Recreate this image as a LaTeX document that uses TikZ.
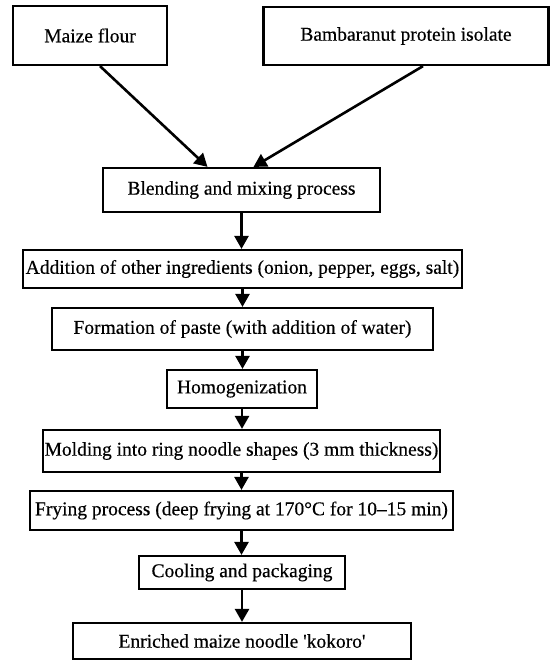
\documentclass[tikz,border=0pt]{standalone}
\usepackage{fontspec}
\setmainfont{Liberation Serif}[FakeBold=0.4]
\usetikzlibrary{arrows.meta}
\begin{document}
\begin{tikzpicture}[x=1pt,y=-1pt,
    box/.style={draw,line width=2.2pt,inner sep=1pt,font=\fontsize{19.5}{21}\selectfont},
    arr/.style={line width=2.6pt,-{Triangle[length=13pt,width=14pt]}}]
    \useasboundingbox (0,0) rectangle (550,660);
    % Nodes
    \node[box,minimum width=154pt,minimum height=59pt] (A) at (90,35.5){Maize flour};
    \node[box,minimum width=285pt,minimum height=58pt] (B) at (406,36){Bambaranut protein isolate};
    \node[box,minimum width=277pt,minimum height=44pt] (C) at (241.5,190){Blending and mixing process};
    \node[box,minimum width=439pt,minimum height=38pt] (D) at (242.5,269){Addition of other ingredients (onion, pepper, eggs, salt)};
    \node[box,minimum width=381pt,minimum height=42pt] (E) at (242.5,329){Formation of paste (with addition of water)};
    \node[box,minimum width=150pt,minimum height=38pt] (F) at (242,389){Homogenization};
    \node[box,minimum width=397pt,minimum height=42pt] (G) at (241.5,451){Molding into ring noodle shapes (3 mm thickness)};
    \node[box,minimum width=423pt,minimum height=39pt] (H) at (241.5,510.5){Frying process (deep frying at 170°C for 10--15 min)};
    \node[box,minimum width=206pt,minimum height=33pt] (I) at (242,572.5){Cooling and packaging};
    \node[box,minimum width=338pt,minimum height=36pt] (J) at (242,641){Enriched maize noodle \textquotesingle kokoro\textquotesingle};
    % Edges
    \draw[arr] ([xshift=10pt]A.south) -- ([xshift=-34pt]C.north);
    \draw[arr] ([xshift=17pt]B.south) -- ([xshift=12pt]C.north);
    \draw[arr] (C.south) -- (C.south |- D.north);
    \draw[arr] (D.south) -- (D.south |- E.north);
    \draw[arr] (E.south) -- (E.south |- F.north);
    \draw[arr] (F.south) -- (F.south |- G.north);
    \draw[arr] (G.south) -- (G.south |- H.north);
    \draw[arr] (H.south) -- (H.south |- I.north);
    \draw[arr] (I.south) -- (I.south |- J.north);
\end{tikzpicture}
\end{document}
